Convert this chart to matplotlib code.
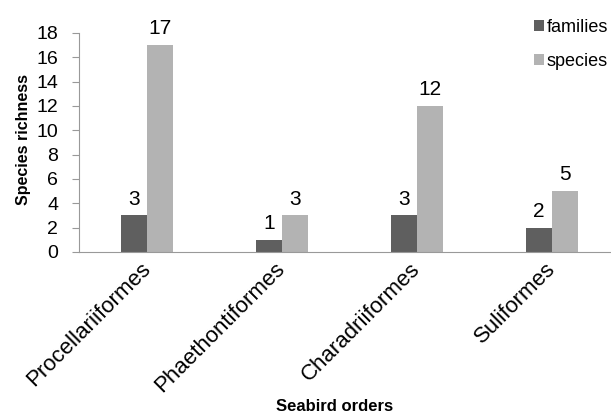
import matplotlib.pyplot as plt
import numpy as np

# data
orders = ["Procellariiformes", "Phaethontiformes", "Charadriiformes", "Suliformes"]
families = [3, 1, 3, 2]
species = [17, 3, 12, 5]

plt.rcParams['font.family'] = ['Liberation Sans', 'DejaVu Sans']

fig = plt.figure(figsize=(6.11, 4.19), dpi=100)
ax = fig.add_axes([0.1293, 0.3986, 0.8707, 0.5227])

x = np.arange(len(orders))
w = 0.196
b1 = ax.bar(x - w / 2, families, w, color='#5f5f5f', label='families')
b2 = ax.bar(x + w / 2, species, w, color='#b3b3b3', label='species')

for bars in (b1, b2):
    for r in bars:
        ax.annotate(str(int(r.get_height())),
                    (r.get_x() + r.get_width() / 2, r.get_height()),
                    xytext=(0, 5), textcoords='offset points',
                    ha='center', va='bottom', fontsize=15)

ax.set_xlim(-0.504, 3.437)
ax.set_ylim(0, 18)
ax.set_yticks(range(0, 19, 2))
ax.tick_params(axis='y', labelsize=14, length=5, color='#999999', pad=10)
ax.tick_params(axis='x', length=0, labelsize=16, pad=10)
ax.set_xticks(x)
ax.set_xticklabels(orders, rotation=45, ha='right', va='center', rotation_mode='anchor')

for s in ['top', 'right']:
    ax.spines[s].set_visible(False)
ax.spines['left'].set_color('#999999')
ax.spines['bottom'].set_color('#999999')

fig.text(0.039, 0.668, 'Species richness', fontsize=11.5, fontweight='bold',
         rotation=90, ha='center', va='center')
fig.text(0.548, 0.02, 'Seabird orders', fontsize=12, fontweight='bold',
         ha='center', va='baseline')

fig.legend(handles=[b1, b2], loc='upper left', bbox_to_anchor=(0.874, 0.955),
           frameon=False, prop={'size': 13}, borderpad=0, borderaxespad=0,
           handlelength=0.55, handleheight=0.55, handletextpad=0.15,
           labelspacing=0.95)

fig.savefig('out.png', dpi=100)
